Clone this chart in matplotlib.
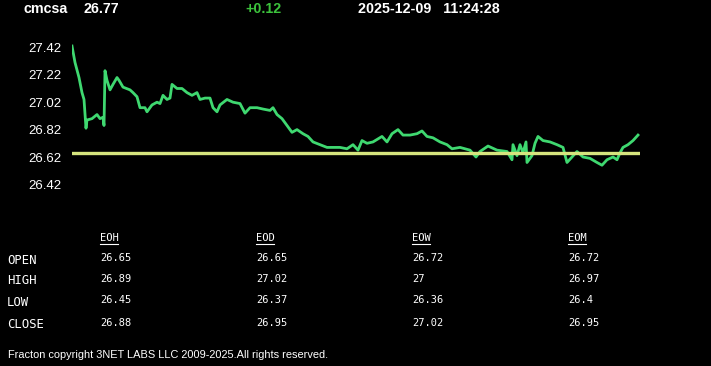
import matplotlib
matplotlib.use("Agg")
import matplotlib.pyplot as plt

# intraday trace (time step, price)
t = [0, 3, 7, 10, 12, 14, 15, 20, 25, 28,
     31, 32, 33, 35, 38, 41, 45, 47, 51, 58,
     61, 65, 68, 73, 75, 80, 85, 88, 91, 95,
     98, 100, 105, 110, 115, 120, 125, 128, 133, 138,
     141, 145, 148, 155, 161, 168, 173, 178, 185, 191,
     198, 201, 205, 210, 215, 220, 225, 231, 236, 241,
     248, 255, 261, 268, 275, 281, 286, 290, 295, 301,
     310, 315, 320, 326, 331, 338, 345, 350, 355, 361,
     368, 375, 380, 388, 398, 404, 408, 416, 425, 435,
     440, 441, 445, 448, 451, 454, 455, 460, 463, 466,
     471, 478, 485, 491, 495, 500, 505, 511, 518, 525,
     530, 535, 541, 545, 548, 551, 556, 561, 566]
price = [27.43, 27.31, 27.20, 27.09, 27.04, 26.83, 26.89, 26.90, 26.93, 26.90,
         26.91, 26.85, 27.25, 27.18, 27.11, 27.15, 27.20, 27.18, 27.13, 27.11,
         27.09, 27.06, 26.98, 26.98, 26.95, 27.00, 27.02, 27.01, 27.07, 27.04,
         27.05, 27.15, 27.12, 27.12, 27.09, 27.07, 27.09, 27.04, 27.05, 27.05,
         26.98, 26.95, 27.00, 27.04, 27.02, 27.01, 26.94, 26.98, 26.98, 26.97,
         26.96, 26.98, 26.93, 26.90, 26.85, 26.80, 26.82, 26.79, 26.77, 26.73,
         26.71, 26.69, 26.69, 26.69, 26.68, 26.71, 26.67, 26.74, 26.72, 26.73,
         26.77, 26.73, 26.79, 26.82, 26.78, 26.78, 26.79, 26.81, 26.77, 26.76,
         26.73, 26.71, 26.68, 26.69, 26.67, 26.62, 26.66, 26.70, 26.67, 26.66,
         26.60, 26.71, 26.63, 26.71, 26.65, 26.73, 26.58, 26.63, 26.72, 26.77,
         26.74, 26.73, 26.71, 26.69, 26.58, 26.62, 26.66, 26.62, 26.61, 26.58,
         26.56, 26.60, 26.62, 26.60, 26.65, 26.69, 26.71, 26.74, 26.78]
open_price = 26.65
yticks = [27.42, 27.22, 27.02, 26.82, 26.62, 26.42]

symbol = "cmcsa"
last = "26.77"
change = "+0.12"
stamp = "2025-12-09   11:24:28"

col_heads = ["EOH", "EOD", "EOW", "EOM"]
row_heads = ["OPEN", "HIGH", "LOW", "CLOSE"]
table = [["26.65", "26.65", "26.72", "26.72"],
         ["26.89", "27.02", "27", "26.97"],
         ["26.45", "26.37", "26.36", "26.4"],
         ["26.88", "26.95", "27.02", "26.95"]]
footer = "Fracton copyright 3NET LABS LLC 2009-2025.All rights reserved."

W, H = 711, 366
fig = plt.figure(figsize=(W / 100, H / 100), dpi=100, facecolor="black")


def fx(px):
    return px / W


def fy(py):
    return 1 - py / H


ax = fig.add_axes([fx(72), fy(190), fx(640) - fx(72), fy(40) - fy(190)])
ax.set_facecolor("black")
ax.plot(t, price, color="#3fd870", lw=2)
ax.axhline(open_price, color="#d6e47e", lw=2.4)
ax.set_xlim(0, 568)
ax.set_ylim(26.62 - 33 / 137, 26.62 + 117 / 137)
ax.set_yticks(yticks)
ax.set_yticklabels([f"{v:.2f}" for v in yticks])
ax.tick_params(axis="y", length=0, pad=7.5, labelcolor="white", labelsize=9.5)
for lab in ax.get_yticklabels():
    lab.set_family("Liberation Sans")
ax.set_xticks([])
for s in ax.spines.values():
    s.set_visible(False)

hdr = dict(family="Liberation Sans", weight="bold", fontsize=10.3, va="center")
fig.text(fx(23), fy(9), symbol, color="white", **hdr)
fig.text(fx(84), fy(9), last, color="white", **hdr)
fig.text(fx(245), fy(9), change, color="#3cc23c", **hdr)
fig.text(fx(358), fy(9), stamp, color="white", **hdr)

mono = dict(family="DejaVu Sans Mono", fontsize=7.5, color="white", va="center")
col_x = [100, 256, 412, 568]
row_y = [260, 281, 302, 325]
for cx, head in zip(col_x, col_heads):
    fig.text(fx(cx), fy(238), head, **mono)
    fig.add_artist(plt.Line2D([fx(cx), fx(cx + 18)], [fy(243.5), fy(243.5)],
                              color="white", lw=0.8))
for ry, rh, vals in zip(row_y, row_heads, table):
    fig.text(fx(7), fy(ry), rh, family="DejaVu Sans Mono", fontsize=8.8,
             color="white", va="center")
    for cx, v in zip(col_x, vals):
        fig.text(fx(cx), fy(ry - 2), v, **mono)

fig.text(fx(8), fy(355.5), footer, family="Liberation Sans", fontsize=7.9,
         color="white", va="center")

fig.savefig("out.png", dpi=100, facecolor="black")
